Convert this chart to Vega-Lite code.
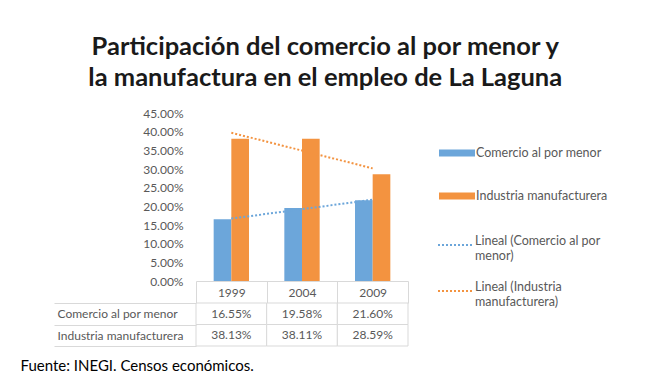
{
  "$schema": "https://vega.github.io/schema/vega-lite/v6.json",
  "background": "white",
  "padding": {"left": 20, "top": 34, "right": 5, "bottom": 5},
  "config": {"font": "Lato", "view": {"stroke": null}},
  "title": {
    "text": ["Participación del comercio al por menor y", "la manufactura en el empleo de La Laguna"],
    "fontSize": 25.5, "fontWeight": "bold", "color": "#1a1a1a", "lineHeight": 31,
    "anchor": "middle", "offset": 16, "dx": 11
  },
  "datasets": {
    "bars": [
      {"year": "1999", "serie": "Comercio al por menor", "value": 0.1655},
      {"year": "2004", "serie": "Comercio al por menor", "value": 0.1958},
      {"year": "2009", "serie": "Comercio al por menor", "value": 0.2160},
      {"year": "1999", "serie": "Industria manufacturera", "value": 0.3813},
      {"year": "2004", "serie": "Industria manufacturera", "value": 0.3811},
      {"year": "2009", "serie": "Industria manufacturera", "value": 0.2859}
    ],
    "trend": [
      {"year": "1999", "tendencia": "Lineal (Comercio al por menor)", "value": 0.1672},
      {"year": "2004", "tendencia": "Lineal (Comercio al por menor)", "value": 0.1924},
      {"year": "2009", "tendencia": "Lineal (Comercio al por menor)", "value": 0.2177},
      {"year": "1999", "tendencia": "Lineal (Industria manufacturera)", "value": 0.3971},
      {"year": "2004", "tendencia": "Lineal (Industria manufacturera)", "value": 0.3494},
      {"year": "2009", "tendencia": "Lineal (Industria manufacturera)", "value": 0.3017}
    ]
  },
  "spacing": 22,
  "bounds": "flush",
  "vconcat": [
    {
      "width": 212,
      "height": 168,
      "encoding": {
        "x": {
          "field": "year", "type": "nominal",
          "scale": {"paddingInner": 0, "paddingOuter": 0},
          "axis": {
            "title": null, "labelAngle": 0, "domain": true, "domainColor": "#d9d9d9", "domainWidth": 1,
            "ticks": true, "tickBand": "extent", "tickSize": 22, "tickColor": "#d9d9d9", "tickWidth": 1,
            "labelBaseline": "middle", "labelPadding": -11, "labelFontSize": 12, "labelColor": "#595959"
          }
        },
        "y": {
          "field": "value", "type": "quantitative",
          "scale": {"domain": [0, 0.45], "nice": false},
          "axis": {
            "title": null, "values": [0, 0.05, 0.1, 0.15, 0.2, 0.25, 0.3, 0.35, 0.4, 0.45],
            "format": ".2%", "domain": false, "ticks": false, "grid": false, "labelOverlap": false,
            "labelFontSize": 12, "labelColor": "#595959", "labelPadding": 13
          }
        }
      },
      "layer": [
        {
          "data": {"name": "bars"},
          "mark": {"type": "bar"},
          "encoding": {
            "xOffset": {
              "field": "serie", "type": "nominal", "sort": ["Comercio al por menor", "Industria manufacturera"],
              "scale": {"paddingInner": 0, "paddingOuter": 1.14}
            },
            "fill": {
              "field": "serie", "type": "nominal",
              "scale": {"domain": ["Comercio al por menor", "Industria manufacturera"], "range": ["#6CA6DA", "#F39340"]},
              "legend": {
                "title": null, "orient": "none", "legendX": 243, "legendY": 22,
                "symbolType": "M-1,-0.19H1V0.19H-1Z", "symbolSize": 1296, "symbolStrokeWidth": 0,
                "labelFontSize": 12.5, "labelColor": "#595959", "labelOffset": 1, "rowPadding": 18
              }
            }
          }
        },
        {
          "data": {"name": "trend"},
          "mark": {"type": "line", "strokeDash": [2, 2], "strokeWidth": 2},
          "encoding": {
            "stroke": {
              "field": "tendencia", "type": "nominal",
              "scale": {"domain": ["Lineal (Comercio al por menor)", "Lineal (Industria manufacturera)"], "range": ["#6CA6DA", "#F39340"]},
              "legend": {
                "title": null, "orient": "none", "legendX": 241, "legendY": 113,
                "symbolType": "stroke", "symbolSize": 1296, "symbolStrokeWidth": 2, "symbolDash": [2, 2],
                "labelFontSize": 12.5, "labelColor": "#595959", "labelOffset": 0, "rowPadding": 10,
                "labelBaseline": "alphabetic",
                "labelExpr": "datum.label == 'Lineal (Comercio al por menor)' ? ['Lineal (Comercio al por', 'menor)'] : ['Lineal (Industria', 'manufacturera)']"
              }
            }
          }
        }
      ]
    },
    {
      "width": 212,
      "height": 43,
      "data": {"name": "bars"},
      "title": {
        "text": "Fuente: INEGI. Censos económicos.", "orient": "bottom", "anchor": "start", "frame": "bounds",
        "fontSize": 15, "fontWeight": "normal", "color": "#000000", "offset": 12, "dx": -33
      },
      "encoding": {
        "x": {"field": "year", "type": "nominal", "scale": {"paddingInner": 0, "paddingOuter": 0}, "axis": null},
        "y": {
          "field": "serie", "type": "nominal",
          "scale": {"domain": ["Comercio al por menor", "Industria manufacturera"], "paddingInner": 0, "paddingOuter": 0},
          "axis": {
            "title": null, "domain": false, "ticks": true, "tickBand": "extent", "tickSize": 142,
            "tickColor": "#d9d9d9", "tickWidth": 1,
            "labelAlign": "left", "labelPadding": -3, "labelFontSize": 12, "labelColor": "#595959"
          }
        }
      },
      "layer": [
        {
          "mark": {"type": "rect", "fill": "white", "stroke": "#d9d9d9", "strokeWidth": 1},
          "encoding": {}
        },
        {
          "mark": {"type": "text", "fontSize": 12, "color": "#595959"},
          "encoding": {"text": {"field": "value", "format": ".2%"}}
        }
      ]
    }
  ]
}
